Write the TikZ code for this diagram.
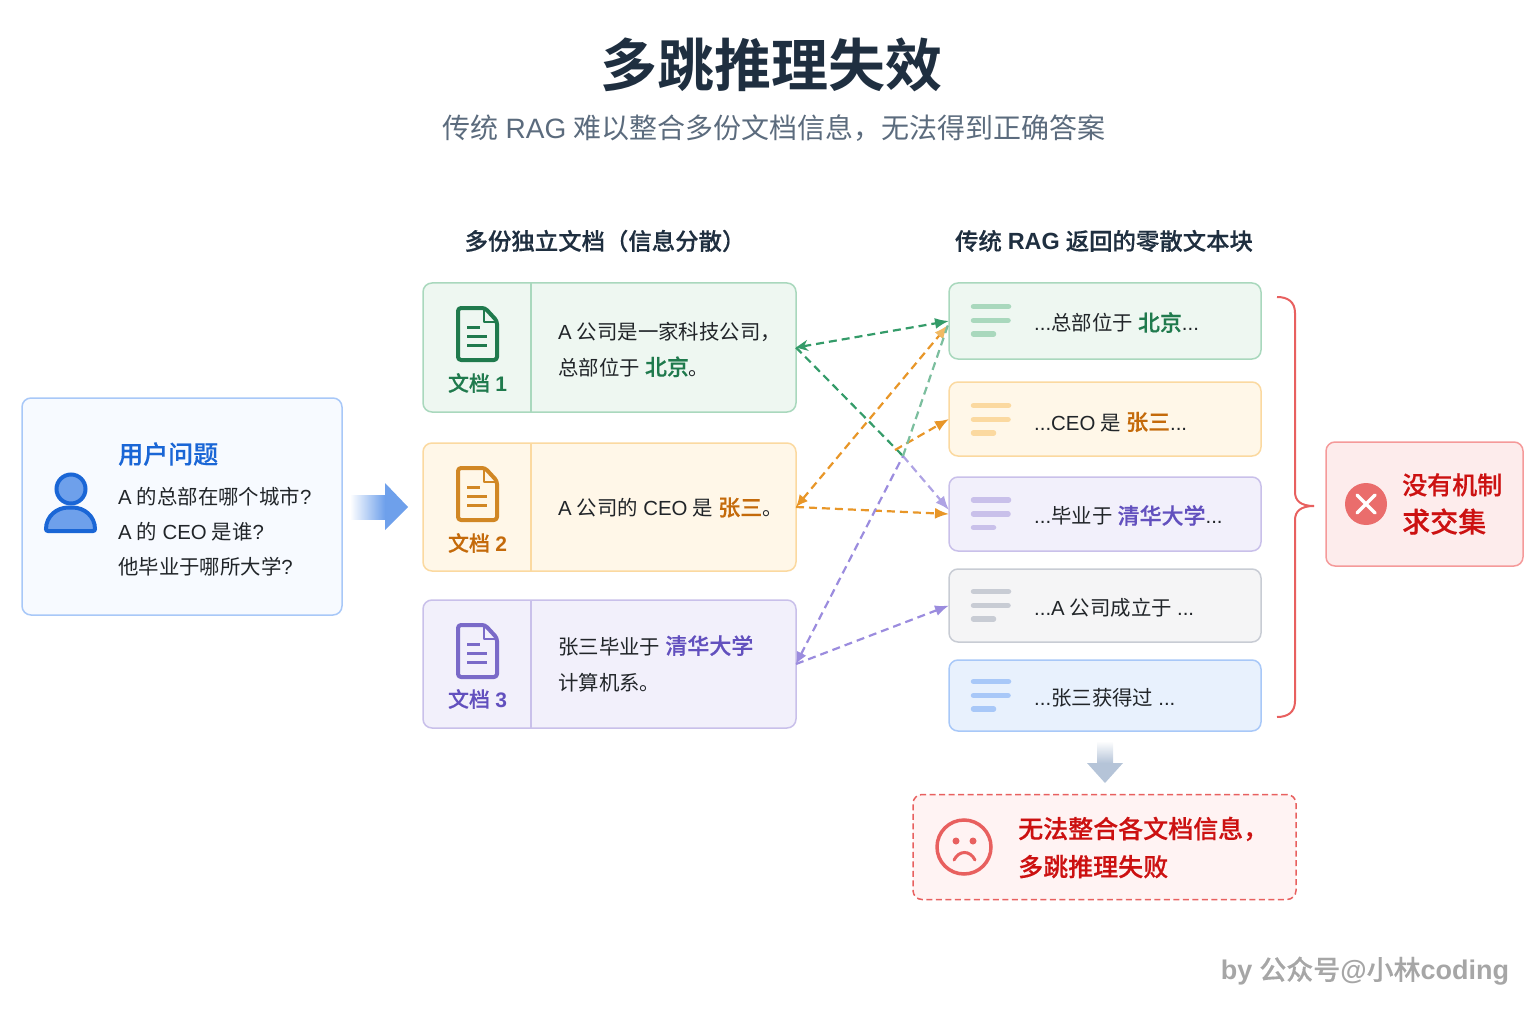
\documentclass[tikz,border=0pt]{standalone}
\usepackage{fontspec}
\setmainfont{Noto Sans CJK SC}[WordSpace=1.13, BoldFont={Noto Sans CJK SC Medium}, BoldFeatures={FakeBold=0.4}]
\newfontfamily\titlefont{Noto Sans CJK SC Bold}
\newfontfamily\latfont{Liberation Sans}
\newcommand{\lat}[1]{{\latfont #1}}
\usetikzlibrary{arrows.meta}
\definecolor{mytitle}{RGB}{31, 47, 64}
\definecolor{mysub}{RGB}{91, 107, 125}
\definecolor{mytext}{RGB}{33, 37, 41}
\definecolor{myblue}{RGB}{26, 102, 214}
\definecolor{myblueline}{RGB}{168, 200, 248}
\definecolor{mybluefill}{RGB}{247, 250, 255}
\definecolor{mybluechunk}{RGB}{232, 241, 253}
\definecolor{mybluearrow}{RGB}{110, 160, 235}
\definecolor{myslate}{RGB}{181, 196, 216}
\definecolor{mygreen}{RGB}{31, 122, 77}
\definecolor{mygreenline}{RGB}{169, 216, 189}
\definecolor{mygreenfill}{RGB}{238, 247, 241}
\definecolor{mygreenarrow}{RGB}{52, 155, 105}
\definecolor{myorange}{RGB}{196, 106, 10}
\definecolor{myorangeline}{RGB}{251, 217, 160}
\definecolor{myorangefill}{RGB}{255, 247, 232}
\definecolor{myorangearrow}{RGB}{232, 150, 40}
\definecolor{myorangehead}{RGB}{241, 186, 100}
\definecolor{mypurple}{RGB}{98, 80, 190}
\definecolor{mypurpleline}{RGB}{201, 192, 234}
\definecolor{mypurplefill}{RGB}{242, 240, 251}
\definecolor{mypurplearrow}{RGB}{155, 140, 222}
\definecolor{mygrayline}{RGB}{200, 204, 212}
\definecolor{mygrayfill}{RGB}{245, 245, 246}
\definecolor{myred}{RGB}{204, 17, 17}
\definecolor{myredline}{RGB}{232, 96, 95}
\definecolor{myredsoft}{RGB}{245, 154, 154}
\definecolor{myredfill}{RGB}{253, 236, 236}
\definecolor{myredpale}{RGB}{255, 243, 243}

\tikzset{
 box/.style={draw, rounded corners=9pt, line width=1.5pt, inner sep=0pt, outer sep=0pt},
 bartext/.style={anchor=west, inner sep=0pt, text=mytext, font=\fontsize{20.4}{36}\selectfont, align=left},
 doclabel/.style={inner sep=0pt, font=\fontsize{21}{25}\selectfont\bfseries},
 header/.style={inner sep=0pt, text=mytitle, font=\fontsize{23.4}{28}\selectfont\bfseries},
 redtext/.style={anchor=west, inner sep=0pt, text=myred, align=left, font=\fontsize{25}{38}\selectfont\bfseries},
 link/.style={line width=2.2pt, dash pattern=on 8pt off 5pt},
 tip/.style={-{Latex[length=14pt,width=11pt]}},
}

% x y of the top left corner, then the colour
\newcommand{\docicon}[3]{
 \begin{scope}[shift={(#1,#2)}, draw=#3, line width=4pt, line join=round]
  \draw[rounded corners=3pt] (0,0) -- (27,0) -- (39,13) -- (39,52) -- (0,52) -- cycle;
  \draw[line width=2.5pt] (26,1) -- (26,14) -- (38,14);
  \draw[line width=3pt] (9,19) -- (22,19);
  \draw[line width=3pt] (9,28) -- (29,28);
  \draw[line width=3pt] (9,37) -- (29,37);
 \end{scope}
}
% x y of the top bar, then the colour
\newcommand{\chunkbars}[3]{
 \begin{scope}[shift={(#1,#2)}, line width=5.5pt, line cap=round, draw=#3]
  \draw (2.5,0) -- (37.5,0);
  \draw (2.5,14) -- (37,14);
  \draw (2.5,27.5) -- (22.5,27.5);
 \end{scope}
}

\begin{document}
\begin{tikzpicture}[x=1pt, y=-1pt]

 \useasboundingbox (0,0) rectangle (1536,1024);

 \node[inner sep=0pt, text=mytitle, font=\fontsize{57}{60}\selectfont\titlefont] (title) at (771,65) {多跳推理失效};
 \node[inner sep=0pt, text=mysub, font=\fontsize{28}{34}\selectfont] (subtitle) at (774,128) {传统 \lat{RAG} 难以整合多份文档信息，无法得到正确答案};

 \node[header] (head1) at (605,241) {多份独立文档（信息分散）};
 \node[header] (head2) at (1104,241) {传统 \lat{RAG} 返回的零散文本块};

 % user box
 \node[box, draw=myblueline, fill=mybluefill, minimum width=320pt, minimum height=217pt] (user) at (182,506.5) {};
 \node[anchor=west, inner sep=0pt, text=myblue, font=\fontsize{25}{30}\selectfont\bfseries] (usertitle) at (118,454) {用户问题};
 \node[bartext, font=\fontsize{20.4}{35}\selectfont] (question) at (118,532) {\lat{A} 的总部在哪个城市\lat{?}\\ \lat{A} 的 \lat{CEO} 是谁\lat{?}\\ 他毕业于哪所大学\lat{?}};
 \draw[line width=4pt, draw=myblue, fill=mybluearrow] (71,489) circle (14.5);
 \draw[line width=4pt, draw=myblue, fill=mybluearrow, rounded corners=2pt] (46,531) .. controls (46,516) and (57,507.5) .. (70.5,507.5) .. controls (84,507.5) and (95,516) .. (95,531) -- cycle;

 \shade[left color=white, right color=mybluearrow] (350,495) rectangle (385,519);
 \fill[mybluearrow] (385,483) -- (408,507) -- (385,530) -- cycle;

 % documents
 \node[box, draw=mygreenline, fill=mygreenfill, minimum width=373pt, minimum height=129pt] (doc1) at (609.5,347.5) {};
 \node[box, draw=myorangeline, fill=myorangefill, minimum width=373pt, minimum height=128pt] (doc2) at (609.5,507) {};
 \node[box, draw=mypurpleline, fill=mypurplefill, minimum width=373pt, minimum height=128pt] (doc3) at (609.5,664) {};
 \draw[line width=1.5pt, mygreenline] (531,283) -- (531,412);
 \draw[line width=1.5pt, myorangeline] (531,443) -- (531,571);
 \draw[line width=1.5pt, mypurpleline] (531,600) -- (531,728);

 \docicon{458}{308}{mygreen}
 \docicon{458}{468}{myorangearrow!90!black}
 \docicon{458}{625}{mypurple!85!white}
 \node[doclabel, text=mygreen] (label1) at (477.5,383) {文档 \lat{1}};
 \node[doclabel, text=myorange] (label2) at (477.5,543) {文档 \lat{2}};
 \node[doclabel, text=mypurple] (label3) at (477.5,699) {文档 \lat{3}};

 \node[bartext] (text1) at (558,349.5) {\lat{A} 公司是一家科技公司，\\ 总部位于 {\fontsize{22}{36}\selectfont\bfseries\color{mygreen}北京}。};
 \node[bartext] (text2) at (558,507.5) {\lat{A} 公司的 \lat{CEO} 是 {\fontsize{22}{36}\selectfont\bfseries\color{myorange}张三}。};
 \node[bartext] (text3) at (558,663.5) {张三毕业于 {\fontsize{22}{36}\selectfont\bfseries\color{mypurple}清华大学}\\ 计算机系。};

 % chunks
 \node[box, draw=mygreenline, fill=mygreenfill, minimum width=312pt, minimum height=76pt] (chunk1) at (1105,321) {};
 \node[box, draw=myorangeline, fill=myorangefill, minimum width=312pt, minimum height=74pt] (chunk2) at (1105,419) {};
 \node[box, draw=mypurpleline, fill=mypurplefill, minimum width=312pt, minimum height=74pt] (chunk3) at (1105,514) {};
 \node[box, draw=mygrayline, fill=mygrayfill, minimum width=312pt, minimum height=73pt] (chunk4) at (1105,605.5) {};
 \node[box, draw=myblueline, fill=mybluechunk, minimum width=312pt, minimum height=71pt] (chunk5) at (1105,695.5) {};

 \chunkbars{971}{306.5}{mygreenline}
 \chunkbars{971}{405.5}{myorangeline}
 \chunkbars{971}{500}{mypurpleline}
 \chunkbars{971}{591.5}{mygrayline}
 \chunkbars{971}{681.5}{myblueline}

 \node[bartext] (part1) at (1034,322.5) {\lat{...}总部位于 {\fontsize{22}{36}\selectfont\bfseries\color{mygreen}北京}\lat{...}};
 \node[bartext] (part2) at (1034,422) {\lat{...CEO} 是 {\fontsize{22}{36}\selectfont\bfseries\color{myorange}张三}\lat{...}};
 \node[bartext] (part3) at (1034,515.5) {\lat{...}毕业于 {\fontsize{22}{36}\selectfont\bfseries\color{mypurple}清华大学}\lat{...}};
 \node[bartext] (part4) at (1034,607.5) {\lat{...A} 公司成立于 \lat{...}};
 \node[bartext] (part5) at (1034,697.5) {\lat{...}张三获得过 \lat{...}};

 \coordinate (in1) at (948,325); %orange and purple end here
 \coordinate (in3) at (949,510);
 \coordinate (cross1) at (903,456);
 \coordinate (cross2) at (895,450);

 \draw[link, mygreenarrow, {Stealth[length=12pt,width=11pt]}-{Latex[length=14pt,width=11pt]}] (doc1.east) -- (chunk1.west);
 \draw[link, mygreenarrow] (doc1.east) -- (cross1);
 \draw[link, mypurplearrow!80!white, tip] (cross1) -- (in3);
 \draw[link, myorangearrow, {Latex[length=12pt,width=11pt]}-{Latex[length=14pt,width=11pt,color=myorangehead]}] (doc2.east) -- (in1);
 \draw[link, myorangearrow, tip] (doc2.east) -- (chunk3.west);
 \draw[link, myorangearrow, tip] (cross2) -- (chunk2.west);
 \draw[link, mypurplearrow, {Latex[length=12pt,width=11pt]}-] (doc3.east) -- (cross1);
 \draw[link, mygreenarrow!65!white] (cross1) -- (in1);
 \draw[link, mypurplearrow, tip] (doc3.east) -- (chunk4.west);

 % bracket and the two results
 \coordinate (brtop) at (1277,297);
 \coordinate (brtip) at (1314,506);
 \coordinate (brbot) at (1277,717);
 \draw[line width=2pt, myredline] (brtop) .. controls (1288,297) and (1295,302) .. (1295,313) -- (1295,492) .. controls (1295,501) and (1301,506) .. (brtip);
 \draw[line width=2pt, myredline] (brbot) .. controls (1288,717) and (1295,712) .. (1295,701) -- (1295,520) .. controls (1295,511) and (1301,506) .. (brtip);

 \node[box, draw=myredsoft, fill=myredfill, minimum width=197pt, minimum height=124pt] (nocross) at (1424.5,504) {};
 \node[circle, fill=myredline!92!white, inner sep=0pt, minimum size=42pt] (xmark) at (1366,504) {};
 \draw[line width=3.5pt, white, line cap=round] (1357,495) -- (1375,513);
 \draw[line width=3.5pt, white, line cap=round] (1375,495) -- (1357,513);
 \node[redtext] (notext) at (1402,504) {没有机制\\ {\fontsize{28}{38}\selectfont 求交集}};

 \shade[top color=white, bottom color=myslate] (1097,741) rectangle (1113,763);
 \fill[myslate] (1087,763) -- (1123,763) -- (1105,783) -- cycle;

 \node[box, draw=myredline, fill=myredpale, dashed, dash pattern=on 6pt off 3.5pt, minimum width=383pt, minimum height=105pt] (fail) at (1104.5,847) {};
 \node[circle, draw=myredline, line width=3.5pt, inner sep=0pt, minimum size=54pt] (sad) at (964,847) {};
 \fill[myredline] (956,841) circle (3.5);
 \fill[myredline] (973,841) circle (3.5);
 \draw[line width=3pt, myredline, line cap=round] (954,860) .. controls (959,850) and (970,850) .. (975,860);
 \node[redtext] (failtext) at (1018,847.5) {无法整合各文档信息，\\ 多跳推理失败};

 \node[inner sep=0pt, text=black!35, font=\fontsize{27}{32}\selectfont\bfseries] (credit) at (1365,971) {\lat{by} 公众号\lat{@}小林\lat{coding}};

\end{tikzpicture}
\end{document}
